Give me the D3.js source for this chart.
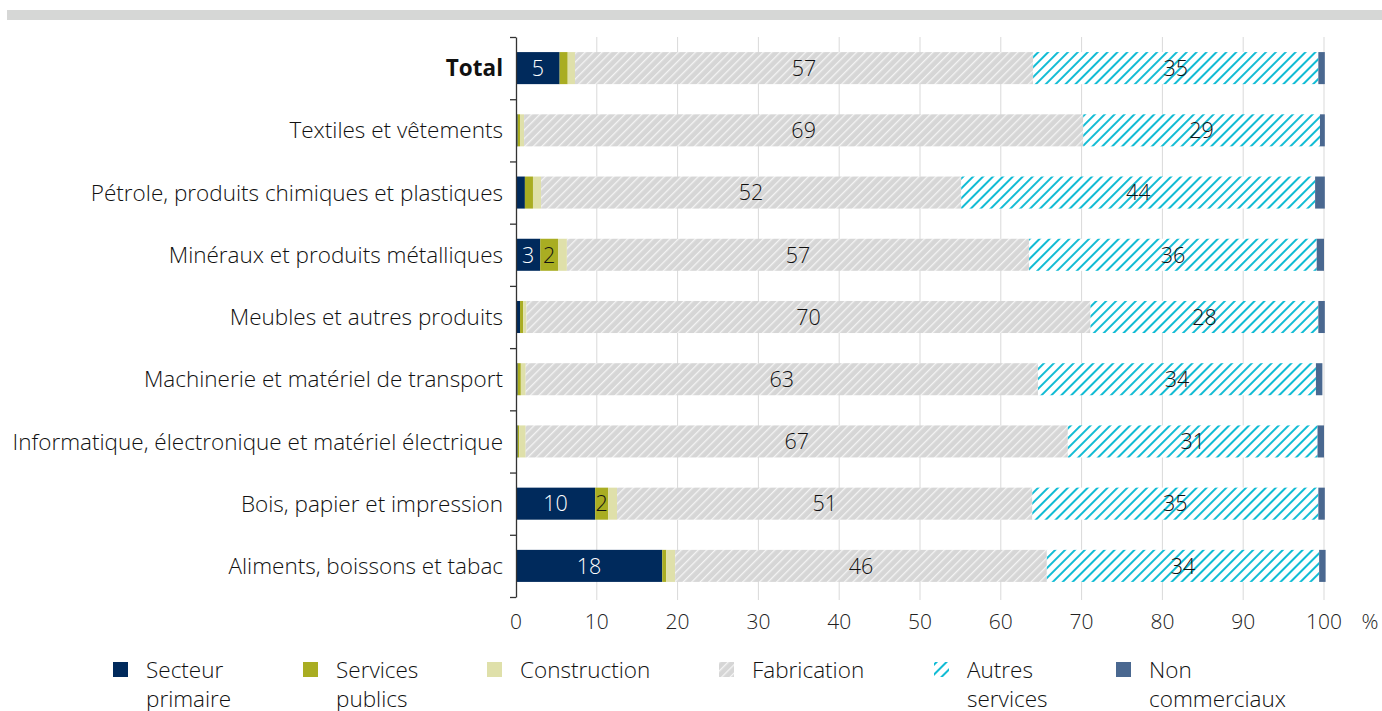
<!DOCTYPE html>
<html>
<head>
<meta charset="utf-8">
<script src="https://cdn.jsdelivr.net/npm/d3@7"></script>
<style>
  body { margin: 0; background: #fff; }
  svg { display: block; font-family: "Open Sans", sans-serif; font-weight: 300; }
</style>
</head>
<body>
<div id="viz"></div>
<script>
// categories top to bottom
var categories = ["Total", "Textiles et vêtements", "Pétrole, produits chimiques et plastiques",
  "Minéraux et produits métalliques", "Meubles et autres produits", "Machinerie et matériel de transport",
  "Informatique, électronique et matériel électrique", "Bois, papier et impression", "Aliments, boissons et tabac"];

var seriesNames = ["Secteur primaire", "Services publics", "Construction", "Fabrication", "Autres services", "Non commerciaux"];

// shares (%) per series, same order as categories
var primaire     = [5.4, 0.2, 1.1, 3.0, 0.5, 0.2, 0.2, 9.8, 18.1];
var publics      = [1.0, 0.3, 1.0, 2.2, 0.4, 0.4, 0.2, 1.6, 0.5];
var construction = [0.9, 0.5, 1.0, 1.1, 0.4, 0.6, 0.8, 1.1, 1.1];
var fabrication  = [56.7, 69.2, 52.0, 57.2, 69.8, 63.4, 67.1, 51.4, 46.0];
var autres       = [35.3, 29.3, 43.8, 35.6, 28.2, 34.4, 30.9, 35.4, 33.7];
var nonComm      = [0.8, 0.6, 1.2, 0.9, 0.8, 0.8, 0.8, 0.8, 0.8];

var xTicks = [0, 10, 20, 30, 40, 50, 60, 70, 80, 90, 100];

var W = 1382, H = 711;

var svg = d3.select("#viz").append("svg")
    .attr("width", W)
    .attr("height", H);

var defs = svg.append("defs");

// Fabrication: grey with thin white diagonals
var pFab = defs.append("pattern")
    .attr("id", "pFab")
    .attr("patternUnits", "userSpaceOnUse")
    .attr("width", 6).attr("height", 6)
    .attr("patternTransform", "rotate(45)");
pFab.append("rect").attr("width", 6).attr("height", 6).attr("fill", "#d6d6d6");
pFab.append("rect").attr("x", 0).attr("width", 1.3).attr("height", 6).attr("fill", "#f4f4f4");

// Autres services: white with cyan diagonals
var pAut = defs.append("pattern")
    .attr("id", "pAut")
    .attr("patternUnits", "userSpaceOnUse")
    .attr("width", 7).attr("height", 7)
    .attr("patternTransform", "rotate(45)");
pAut.append("rect").attr("width", 7).attr("height", 7).attr("fill", "#fff");
pAut.append("rect").attr("x", 0).attr("width", 2).attr("height", 7).attr("fill", "#12bcd4");

var fills = ["#002a5c", "#a9ad22", "#dfe0aa", "url(#pFab)", "url(#pAut)", "#4a6890"];
var labelColors = ["#fff", "#111", "#111", "#111", "#111", "#111"];

// top grey band
svg.append("rect")
    .attr("x", 7).attr("y", 10)
    .attr("width", W - 7).attr("height", 10)
    .attr("fill", "#d6d7d6");

var x = d3.scaleLinear().domain([0, 100]).range([516, 1324]);

var y = d3.scaleBand()
    .domain(categories)
    .range([37, 597])
    .paddingInner(0.485)
    .paddingOuter(0.2425);

// gridlines
svg.append("g")
  .selectAll("line")
  .data(xTicks.slice(1))
  .enter()
  .append("line")
    .attr("x1", function(d) { return x(d); })
    .attr("x2", function(d) { return x(d); })
    .attr("y1", 37).attr("y2", 600)
    .attr("stroke", "#d9d9d9")
    .attr("stroke-width", 1);

// stack
var table = categories.map(function(c, i) {
  return { cat: c, vals: [primaire[i], publics[i], construction[i], fabrication[i], autres[i], nonComm[i]] };
});

var rows = svg.append("g").selectAll("g")
  .data(table)
  .enter()
  .append("g");

rows.each(function(d) {
  var g = d3.select(this), acc = 0;
  d.vals.forEach(function(v, j) {
    var x0 = acc;
    acc += v;
    g.append("rect")
      .attr("x", x(x0))
      .attr("y", y(d.cat))
      .attr("width", x(acc) - x(x0))
      .attr("height", y.bandwidth())
      .attr("fill", fills[j]);
    if (Math.round(v) >= 2) {
      g.append("text")
        .attr("x", (x(x0) + x(acc)) / 2)
        .attr("y", y(d.cat) + y.bandwidth() / 2)
        .attr("dy", "0.36em")
        .attr("text-anchor", "middle")
        .attr("font-size", 21.5)
        .attr("fill", labelColors[j])
        .text(Math.round(v));
    }
  });
});

// y axis with ticks between categories
var yIdx = d3.scaleLinear().domain([0, categories.length]).range([37, 597]);
var yAxis = svg.append("g")
    .attr("transform", "translate(516,0)")
    .call(d3.axisLeft(yIdx).tickValues(d3.range(categories.length + 1)).tickFormat("").tickSize(6).tickSizeOuter(0));
yAxis.select(".domain").attr("stroke", "#333").attr("stroke-width", 1.3);
yAxis.selectAll(".tick line").attr("stroke", "#333").attr("stroke-width", 1.3);

// category labels
svg.append("g").selectAll("text")
  .data(categories)
  .enter()
  .append("text")
    .attr("x", 503)
    .attr("y", function(d) { return y(d) + y.bandwidth() / 2; })
    .attr("dy", "0.36em")
    .attr("text-anchor", "end")
    .attr("font-size", 22.5)
    .attr("font-weight", function(d, i) { return i === 0 ? 700 : 300; })
    .attr("fill", "#111")
    .text(function(d) { return d; });

// x axis labels
svg.append("g").selectAll("text")
  .data(xTicks)
  .enter()
  .append("text")
    .attr("x", function(d) { return x(d); })
    .attr("y", 629)
    .attr("text-anchor", "middle")
    .attr("font-size", 21)
    .attr("fill", "#222")
    .text(function(d) { return d; });

svg.append("text")
    .attr("x", 1370).attr("y", 629)
    .attr("text-anchor", "middle")
    .attr("font-size", 21)
    .attr("fill", "#222")
    .text("%");

// legend
var legendX = [113, 303, 487, 719, 934, 1116];
var legendLines = [["Secteur", "primaire"], ["Services", "publics"], ["Construction"], ["Fabrication"], ["Autres", "services"], ["Non", "commerciaux"]];

var leg = svg.append("g").selectAll("g")
  .data(seriesNames)
  .enter()
  .append("g")
    .attr("transform", function(d, i) { return "translate(" + legendX[i] + ",0)"; });

leg.append("rect")
    .attr("x", 0).attr("y", 662)
    .attr("width", 15).attr("height", 15)
    .attr("fill", function(d, i) { return fills[i]; });

leg.append("text")
    .attr("x", 33)
    .attr("y", 678)
    .attr("font-size", 22.5)
    .attr("fill", "#111")
    .each(function(d, i) {
      var t = d3.select(this);
      legendLines[i].forEach(function(s, k) {
        t.append("tspan").attr("x", 33).attr("dy", k === 0 ? 0 : 29).text(s);
      });
    });
</script>
</body>
</html>
